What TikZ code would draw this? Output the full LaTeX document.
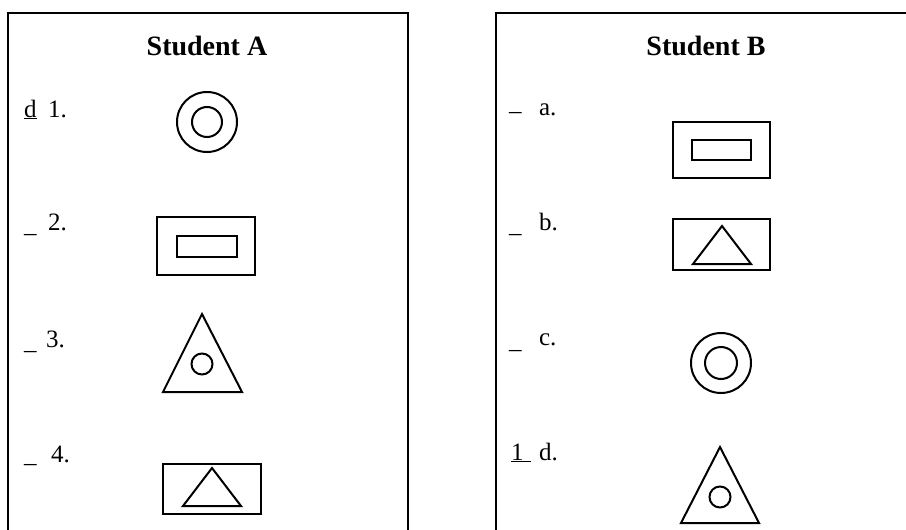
\documentclass[tikz,border=0pt]{standalone}
\usepackage{fontspec}
\setmainfont{Liberation Serif}
\begin{document}
\begin{tikzpicture}[x=1pt,y=-1pt,line width=2pt,
  title/.style={font=\fontsize{28}{30}\selectfont\bfseries,inner sep=0pt,anchor=base},
  lbl/.style={font=\fontsize{25}{28}\selectfont,inner sep=0pt,anchor=base west},
  shp/.style={line width=2pt}]
\useasboundingbox[fill=white] (0,0) rectangle (906,530);
% frames
\draw (8,530) -- (8,13) -- (408,13) -- (408,530);
\draw (496,530) -- (496,13) -- (906,13);
% titles
\node[title] (tA) at (207,55) {Student A};
\node[title] (tB) at (706,55) {Student B};
% left labels
\node[lbl] (bl1) at (23,117) {\underline{d}};
\node[lbl] (n1) at (47,117) {1.};
\node[lbl] (bl2) at (23,232.5) {\_};
\node[lbl] (n2) at (47,230) {2.};
\node[lbl] (bl3) at (23,349.5) {\_};
\node[lbl] (n3) at (45,347) {3.};
\node[lbl] (bl4) at (23,462.5) {\_};
\node[lbl] (n4) at (50,462) {4.};
% right labels
\node[lbl] (bla) at (508,110.5) {\_};
\node[lbl] (na) at (538,115) {a.};
\node[lbl] (blb) at (508,232.5) {\_};
\node[lbl] (nb) at (538,230) {b.};
\node[lbl] (blc) at (508,348.5) {\_};
\node[lbl] (nc) at (538,345) {c.};
\node[lbl] (bld) at (510,460) {\underline{1\hspace{7pt}}};
\node[lbl] (nd) at (538,460) {d.};
% left shapes
\draw[shp] (207,122) circle[radius=30];
\draw[shp] (207,122) circle[radius=15];
\draw[shp] (157,217) rectangle (255,275);
\draw[shp] (177,236) rectangle (237,257);
\draw[shp] (202,314) -- (242,392) -- (163,392) -- cycle;
\draw[shp] (202,364) circle[radius=10.5];
\draw[shp] (163,464) rectangle (261,514);
\draw[shp] (212,468) -- (241,506) -- (183,506) -- cycle;
% right shapes
\draw[shp] (673,122) rectangle (770,178);
\draw[shp] (692,140) rectangle (751,160);
\draw[shp] (673,219) rectangle (770,270);
\draw[shp] (722,226) -- (751,264) -- (693,264) -- cycle;
\draw[shp] (721,363) circle[radius=30];
\draw[shp] (721,363) circle[radius=16];
\draw[shp] (720,447) -- (759,523) -- (681,523) -- cycle;
\draw[shp] (720,497) circle[radius=10.5];
\end{tikzpicture}
\end{document}
